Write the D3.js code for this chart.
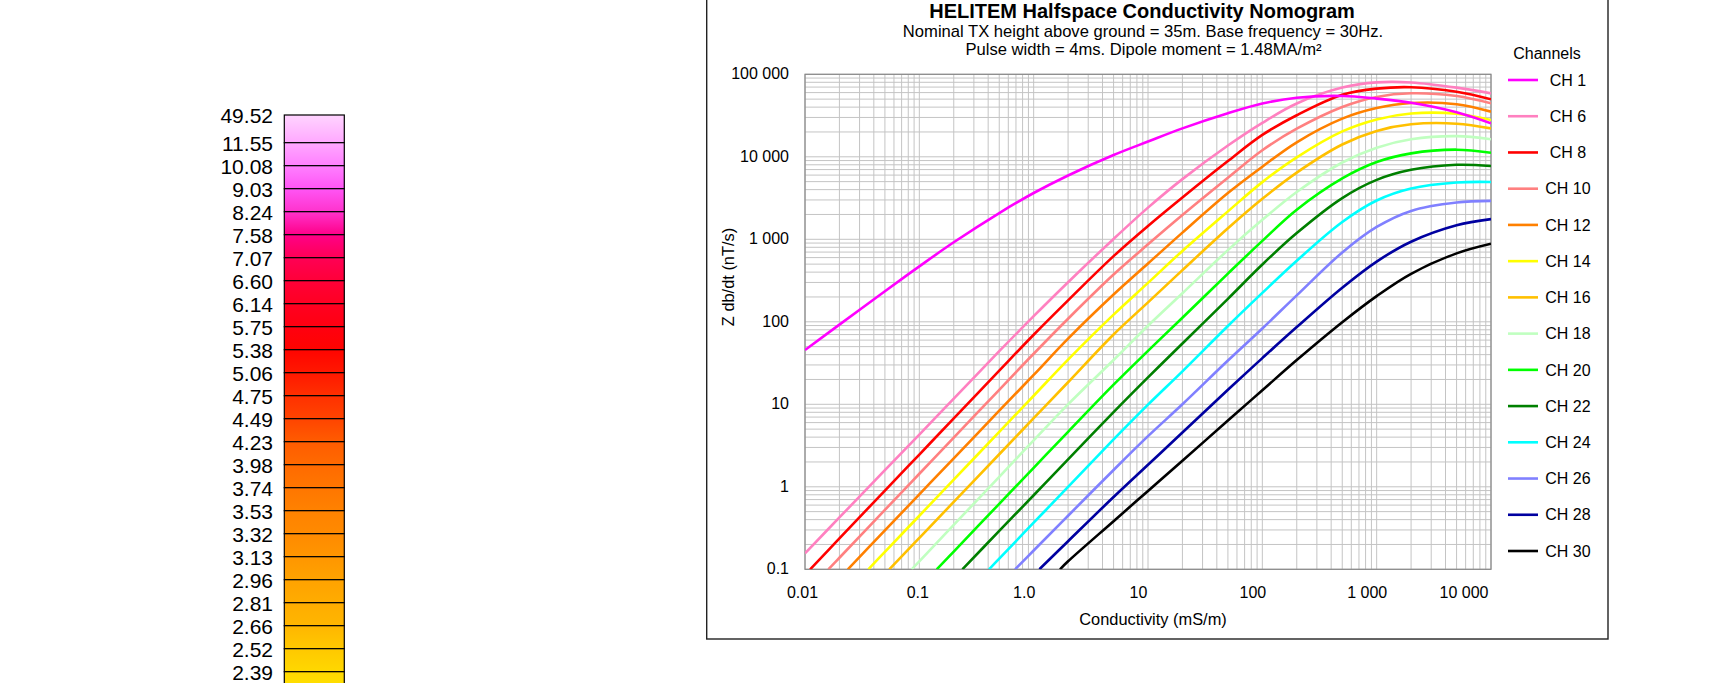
<!DOCTYPE html>
<html>
<head>
<meta charset="utf-8">
<script src="https://cdn.jsdelivr.net/npm/d3@7"></script>
<style>
html,body{margin:0;padding:0;background:#fff;}
svg{display:block;font-family:"Liberation Sans",Arial,sans-serif;}
</style>
</head>
<body>
<svg id="chart" width="1728" height="683"></svg>
<script>
// channel names + colours
const channels = ['CH 1','CH 6','CH 8','CH 10','CH 12','CH 14','CH 16','CH 18','CH 20','CH 22','CH 24','CH 26','CH 28','CH 30'];
const channelColors = ['#ff00ff','#ff80c0','#ff0000','#ff8080','#ff8000','#ffff00','#ffc000','#c0ffc0','#00ff00','#008000','#00ffff','#8080ff','#0000a0','#000000'];

// [conductivity mS/m, dB/dt nT/s]
const ch1  = [[0.01,45.5],[0.02,92.3],[0.05,235],[0.1,470],[0.2,920],[0.5,2080],[1,3640],[2,5940],[5,10500],[10,15300],[20,22100],[50,33700],[100,44200],[200,52000],[500,54600],[1000,50700],[2000,45200],[5000,34700],[10000,25500]];
const ch6  = [[0.01,0.156],[0.02,0.425],[0.05,1.59],[0.1,4.3],[0.2,11.7],[0.5,44],[1,117],[2,302],[5,1010],[10,2420],[20,5360],[50,13700],[100,25800],[200,44300],[500,69000],[1000,79800],[2000,79600],[5000,68900],[10000,58700]];
const ch8  = [[0.0111,0.1],[0.02,0.237],[0.05,0.9],[0.1,2.46],[0.2,6.75],[0.5,25.6],[1,69.7],[2,182],[5,625],[10,1450],[20,3210],[50,8870],[100,18400],[200,31900],[500,56500],[1000,67100],[2000,69800],[5000,61400],[10000,49800]];
const ch10 = [[0.016,0.1],[0.02,0.138],[0.05,0.525],[0.1,1.44],[0.2,3.94],[0.5,15],[1,41],[2,109],[5,374],[10,869],[20,1970],[50,5570],[100,12000],[200,21900],[500,40200],[1000,53200],[2000,58900],[5000,54500],[10000,44500]];
const ch12 = [[0.0237,0.1],[0.05,0.296],[0.1,0.81],[0.2,2.21],[0.5,8.37],[1,22.7],[2,62.5],[5,214],[10,508],[20,1205],[50,3640],[100,7590],[200,15000],[500,29000],[1000,39000],[2000,44900],[5000,43400],[10000,35200]];
const ch14 = [[0.0358,0.1],[0.05,0.163],[0.1,0.446],[0.2,1.22],[0.5,4.63],[1,12.7],[2,34.8],[5,122],[10,296],[20,723],[50,2180],[100,4930],[200,9840],[500,20300],[1000,28400],[2000,33500],[5000,33300],[10000,27900]];
const ch16 = [[0.0546,0.1],[0.1,0.24],[0.2,0.656],[0.5,2.48],[1,6.78],[2,18.5],[5,70.2],[10,172],[20,423],[50,1360],[100,3100],[200,6440],[500,14100],[1000,20600],[2000,24800],[5000,25200],[10000,22100]];
const ch18 = [[0.0858,0.1],[0.1,0.125],[0.2,0.346],[0.5,1.32],[1,3.66],[2,10],[5,34.4],[10,89.7],[20,222],[50,740],[100,1720],[200,3740],[500,8530],[1000,12900],[2000,16300],[5000,17800],[10000,16300]];
const ch20 = [[0.142,0.1],[0.2,0.164],[0.5,0.622],[1,1.7],[2,4.64],[5,17.3],[10,44.4],[20,112],[50,384],[100,957],[200,2280],[500,5460],[1000,8630],[2000,11000],[5000,12200],[10000,11200]];
const ch22 = [[0.238,0.1],[0.5,0.292],[1,0.79],[2,2.15],[5,8.04],[10,21.2],[20,54.6],[50,190],[100,495],[200,1190],[500,3160],[1000,5250],[2000,6950],[5000,8000],[10000,7730]];
const ch24 = [[0.407,0.1],[0.5,0.135],[1,0.367],[2,1],[5,3.75],[10,9.9],[20,25.1],[50,89],[100,224],[200,550],[500,1620],[1000,2950],[2000,4120],[5000,4875],[10000,4950]];
const ch26 = [[0.688,0.1],[1,0.169],[2,0.446],[5,1.6],[10,4.11],[20,10],[50,33.9],[100,83],[200,209],[500,692],[1000,1410],[2000,2210],[5000,2790],[10000,2920]];
const ch28 = [[1.122,0.1],[2,0.219],[5,0.752],[10,1.85],[20,4.55],[50,15],[100,36.3],[200,86.3],[500,259],[1000,537],[2000,935],[5000,1479],[10000,1758]];
const ch30 = [[1.7,0.1],[2,0.125],[5,0.383],[10,0.891],[20,2.07],[50,6.35],[100,14.8],[200,34.4],[500,98.9],[1000,205],[2000,382],[5000,675],[10000,883]];
const series = [ch1,ch6,ch8,ch10,ch12,ch14,ch16,ch18,ch20,ch22,ch24,ch26,ch28,ch30];

const xTicks = [0.01,0.1,1,10,100,1000,10000];
const xTickLabels = ['0.01','0.1','1.0','10','100','1 000','10 000'];
const yTicks = [0.1,1,10,100,1000,10000,100000];
const yTickLabels = ['0.1','1','10','100','1 000','10 000','100 000'];

// colour scale bar on the left
const scaleLabels = ['49.52','11.55','10.08','9.03','8.24','7.58','7.07','6.60','6.14','5.75','5.38','5.06','4.75','4.49','4.23','3.98','3.74','3.53','3.32','3.13','2.96','2.81','2.66','2.52','2.39'];
const scaleColors = ['#ffd4ff','#ffa8ff','#ff80ff','#ff55f5','#ff33cc','#ff0088','#ff0055','#ff0038','#ff0022','#ff0010','#ff0400','#ff1800','#ff3000','#ff4400','#ff5c00','#ff6a00','#ff7600','#ff8200','#ff8a00','#ff9600','#ffa200','#ffac00','#ffb600','#ffc800','#ffd800','#ffe400'];

const svg = d3.select('#chart');
const defs = svg.append('defs');
const plot = {left:805, right:1491, top:74.3, bottom:569.3};

const x = d3.scaleLog().domain([0.01,10000]).range([plot.left,plot.right]);
const y = d3.scaleLog().domain([0.1,100000]).range([plot.bottom,plot.top]);

// ---- colour bar ----
const barX = 284.3, barW = 60, barTop = 115;
const cellY = d3.scaleLinear().domain([1,24]).range([142.7,671.7]);
const edge = i => i === 0 ? barTop : cellY(i);
scaleLabels.forEach((lab,i)=>{
  const gr = defs.append('linearGradient').attr('id','cb'+i).attr('x1',0).attr('y1',0).attr('x2',0).attr('y2',1);
  gr.append('stop').attr('offset','0%').attr('stop-color',scaleColors[i]);
  gr.append('stop').attr('offset','100%').attr('stop-color',scaleColors[i+1]);
});
const bar = svg.append('g');
bar.selectAll('rect').data(scaleLabels).join('rect')
  .attr('x',barX).attr('width',barW)
  .attr('y',(d,i)=>edge(i))
  .attr('height',(d,i)=>(i===scaleLabels.length-1 ? 23 : edge(i+1)-edge(i)))
  .attr('fill',(d,i)=>`url(#cb${i})`)
  .attr('stroke','#000').attr('stroke-width',1.2);
bar.selectAll('text').data(scaleLabels).join('text')
  .attr('x',273).attr('y',(d,i)=>edge(i)+8.2)
  .attr('text-anchor','end').attr('font-size',21).attr('fill','#000')
  .text(d=>d);

// ---- outer frame ----
svg.append('rect').attr('x',706.7).attr('y',-10).attr('width',901.3).attr('height',649)
  .attr('fill','none').attr('stroke','#222').attr('stroke-width',1.4);

// ---- grid ----
const grid = svg.append('g').attr('stroke','#c4c4c4').attr('stroke-width',1);
grid.selectAll('line.gx').data(x.ticks()).join('line').attr('class','gx')
  .attr('x1',d=>x(d)).attr('x2',d=>x(d)).attr('y1',plot.top).attr('y2',plot.bottom);
grid.selectAll('line.gy').data(y.ticks()).join('line').attr('class','gy')
  .attr('y1',d=>y(d)).attr('y2',d=>y(d)).attr('x1',plot.left).attr('x2',plot.right);

svg.append('rect').attr('x',plot.left).attr('y',plot.top)
  .attr('width',plot.right-plot.left).attr('height',plot.bottom-plot.top)
  .attr('fill','none').attr('stroke','#888').attr('stroke-width',1.2);

// ---- curves ----
defs.append('clipPath').attr('id','plotclip').append('rect')
  .attr('x',plot.left).attr('y',plot.top)
  .attr('width',plot.right-plot.left).attr('height',plot.bottom-plot.top);
const line = d3.line().x(d=>x(d[0])).y(d=>y(d[1])).curve(d3.curveCatmullRom.alpha(0.5));
const order = d3.range(series.length).reverse();
svg.append('g').attr('clip-path','url(#plotclip)')
  .selectAll('path').data(order).join('path')
  .attr('d',i=>line(series[i]))
  .attr('fill','none').attr('stroke',i=>channelColors[i])
  .attr('stroke-width',2.6).attr('stroke-linejoin','round');

// ---- axes ----
const xAxis = svg.append('g').attr('transform',`translate(0,${plot.bottom})`)
  .call(d3.axisBottom(x).tickValues(xTicks).tickFormat((d,i)=>xTickLabels[i]).tickSize(0).tickPadding(17));
xAxis.select('.domain').remove();
xAxis.attr('font-family',null).attr('font-size',16);
xAxis.selectAll('text').attr('fill','#000')
  .attr('dx',(d,i)=> i>=2 && i<6 ? -10 : (i===1 ? -2 : -3))
  .attr('text-anchor',(d,i)=> i===xTicks.length-1 ? 'end' : 'middle');

const yAxis = svg.append('g').attr('transform',`translate(${plot.left},0)`)
  .call(d3.axisLeft(y).tickValues(yTicks).tickFormat((d,i)=>yTickLabels[i]).tickSize(0).tickPadding(16));
yAxis.select('.domain').remove();
yAxis.attr('font-family',null).attr('font-size',16);
yAxis.selectAll('text').attr('fill','#000').attr('dy','0.28em');

svg.append('text').attr('x',1153).attr('y',625).attr('text-anchor','middle')
  .attr('font-size',16.4).text('Conductivity (mS/m)');
svg.append('text').attr('transform','translate(734,277) rotate(-90)').attr('text-anchor','middle')
  .attr('font-size',16.4).text('Z db/dt (nT/s)');

// ---- titles ----
svg.append('text').attr('x',1142).attr('y',18).attr('text-anchor','middle')
  .attr('font-size',20).attr('font-weight','bold').text('HELITEM Halfspace Conductivity Nomogram');
svg.append('text').attr('x',1143).attr('y',36.8).attr('text-anchor','middle')
  .attr('font-size',16.6).text('Nominal TX height above ground = 35m. Base frequency = 30Hz.');
svg.append('text').attr('x',1143.5).attr('y',55).attr('text-anchor','middle')
  .attr('font-size',16.6).text('Pulse width = 4ms. Dipole moment = 1.48MA/m\u00b2');

// ---- legend ----
const legend = svg.append('g');
legend.append('text').attr('x',1547).attr('y',59).attr('text-anchor','middle')
  .attr('font-size',16).text('Channels');
const ly = d3.scaleLinear().domain([0,channels.length-1]).range([80,551]);
const items = legend.selectAll('g.item').data(channels).join('g').attr('class','item')
  .attr('transform',(d,i)=>`translate(0,${ly(i)})`);
items.append('line').attr('x1',1508).attr('x2',1538).attr('y1',0).attr('y2',0)
  .attr('stroke',(d,i)=>channelColors[i]).attr('stroke-width',2.6);
items.append('text').attr('x',1568).attr('y',5.7).attr('text-anchor','middle')
  .attr('font-size',16).text(d=>d);
</script>
</body>
</html>
